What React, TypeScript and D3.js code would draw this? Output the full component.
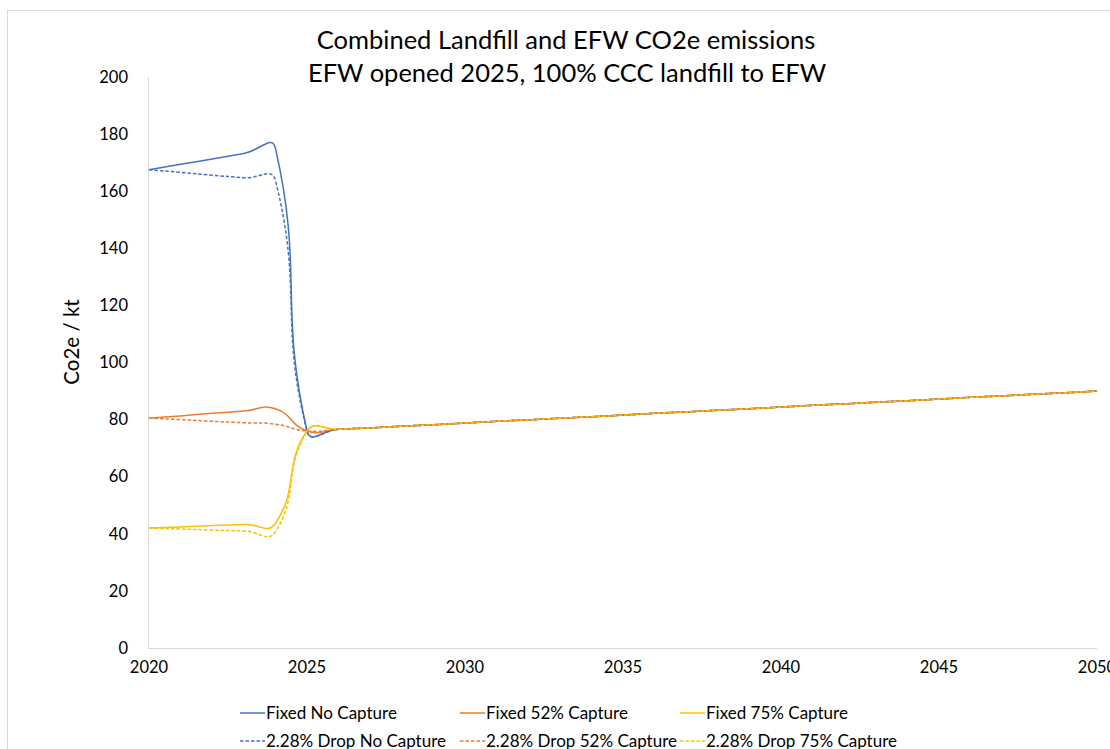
import * as d3 from "d3";

// years on the x axis
const years = d3.range(2020, 2051);

// 2025 onwards every scenario follows the same EFW line
const efwTail = [
  76.0, 76.6, 77.1, 77.7, 78.2, 78.8, 79.4, 79.9, 80.5, 81.0, 81.6, 82.2, 82.7,
  83.3, 83.8, 84.4, 85.0, 85.5, 86.1, 86.6, 87.2, 87.8, 88.3, 88.9, 89.4, 90.0,
];

// 2020-2024 values, landfill period
const fixedNoCapture = [167.5, 169.4, 171.3, 173.2, 175.1, ...efwTail];
const fixed52Capture = [80.5, 81.3, 82.2, 83.0, 83.8, ...efwTail];
const fixed75Capture = [42.0, 42.4, 42.9, 43.3, 43.7, ...efwTail];
const dropNoCapture = [167.5, 166.6, 165.6, 164.7, 163.8, ...efwTail];
const drop52Capture = [80.5, 80.0, 79.4, 78.9, 78.4, ...efwTail];
const drop75Capture = [42.0, 41.7, 41.3, 41.0, 40.7, ...efwTail];

const seriesNames = [
  "Fixed No Capture",
  "Fixed 52% Capture",
  "Fixed 75% Capture",
  "2.28% Drop No Capture",
  "2.28% Drop 52% Capture",
  "2.28% Drop 75% Capture",
];
const seriesValues = [
  fixedNoCapture,
  fixed52Capture,
  fixed75Capture,
  dropNoCapture,
  drop52Capture,
  drop75Capture,
];
const colors = ["#4472C4", "#ED7D31", "#FFC000", "#4472C4", "#ED7D31", "#FFC000"];

const yTicks = [0, 20, 40, 60, 80, 100, 120, 140, 160, 180, 200];
const xTicks = [2020, 2025, 2030, 2035, 2040, 2045, 2050];

const W = 1110;
const H = 749;
const FONT = "Lato, 'Open Sans', sans-serif";

// Excel-like smoothing: bezier control points weighted by neighbouring segment lengths
function excelSmooth(pts: [number, number][], F = 0.5): string {
  const p = d3.path();
  const n = pts.length;
  const dist = (a: [number, number], b: [number, number]) =>
    Math.hypot(b[0] - a[0], b[1] - a[1]);
  p.moveTo(pts[0][0], pts[0][1]);
  for (let i = 0; i < n - 1; i++) {
    const p0 = pts[Math.max(i - 1, 0)];
    const p1 = pts[i];
    const p2 = pts[i + 1];
    const p3 = pts[Math.min(i + 2, n - 1)];
    const d01 = dist(p0, p1);
    const d12 = dist(p1, p2);
    const d23 = dist(p2, p3);
    const w1 = d12 / (d01 + d12 || 1);
    const w2 = d12 / (d12 + d23 || 1);
    const c1x = p1[0] + (p2[0] - p0[0]) * F * w1;
    const c1y = p1[1] + (p2[1] - p0[1]) * F * w1;
    const c2x = p2[0] - (p3[0] - p1[0]) * F * w2;
    const c2y = p2[1] - (p3[1] - p1[1]) * F * w2;
    p.bezierCurveTo(c1x, c1y, c2x, c2y, p2[0], p2[1]);
  }
  return p.toString();
}

export default function App() {
  const x = d3.scaleLinear().domain([2020, 2050]).range([149, 1097]);
  const y = d3.scaleLinear().domain([0, 200]).range([648, 77]);

  const legendCols = [240, 460, 680];
  const legendRows = [713, 741];

  return (
    <svg
      width={W}
      height={H}
      style={{ position: "fixed", left: 0, top: 0, background: "#fff" }}
      fontFamily={FONT}
    >
      <rect x={7.5} y={10.5} width={W} height={H} fill="#fff" stroke="#d9d9d9" />

      <text x={566} y={49} textAnchor="middle" fontSize={25.5} fill="#000">
        Combined Landfill and EFW CO2e emissions
      </text>
      <text x={567} y={82} textAnchor="middle" fontSize={25.5} fill="#000">
        EFW opened 2025, 100% CCC landfill to EFW
      </text>

      {/* axes */}
      <line x1={148.5} x2={148.5} y1={y(200)} y2={y(0)} stroke="#d9d9d9" />
      <line x1={148} x2={x(2050)} y1={y(0) + 0.5} y2={y(0) + 0.5} stroke="#d9d9d9" />

      {yTicks.map((t) => (
        <text
          key={t}
          x={128}
          y={y(t)}
          dy="0.35em"
          textAnchor="end"
          fontSize={16.5}
          fill="#000"
        >
          {t}
        </text>
      ))}
      {xTicks.map((t) => (
        <text key={t} x={x(t)} y={673} textAnchor="middle" fontSize={16.5} fill="#000">
          {t}
        </text>
      ))}

      <text
        transform={`translate(79,342) rotate(-90)`}
        textAnchor="middle"
        fontSize={20.5}
        fill="#000"
      >
        Co2e / kt
      </text>

      {/* series */}
      {seriesValues.map((vals, i) => {
        const pts = vals.map((v, j) => [x(years[j]), y(v)] as [number, number]);
        return (
          <path
            key={seriesNames[i]}
            d={excelSmooth(pts)}
            fill="none"
            stroke={colors[i]}
            strokeWidth={1.5}
            strokeDasharray={i >= 3 ? "3.5,2" : undefined}
          />
        );
      })}

      {/* legend */}
      {seriesNames.map((name, i) => {
        const col = i % 3;
        const row = Math.floor(i / 3);
        const lx = legendCols[col];
        const ly = legendRows[row];
        return (
          <g key={name}>
            <line
              x1={lx}
              x2={lx + 25}
              y1={ly}
              y2={ly}
              stroke={colors[i]}
              strokeWidth={1.5}
              strokeDasharray={row === 1 ? "3.5,2" : undefined}
            />
            <text x={lx + 26} y={ly} dy="0.35em" fontSize={17} fill="#000">
              {name}
            </text>
          </g>
        );
      })}
    </svg>
  );
}
